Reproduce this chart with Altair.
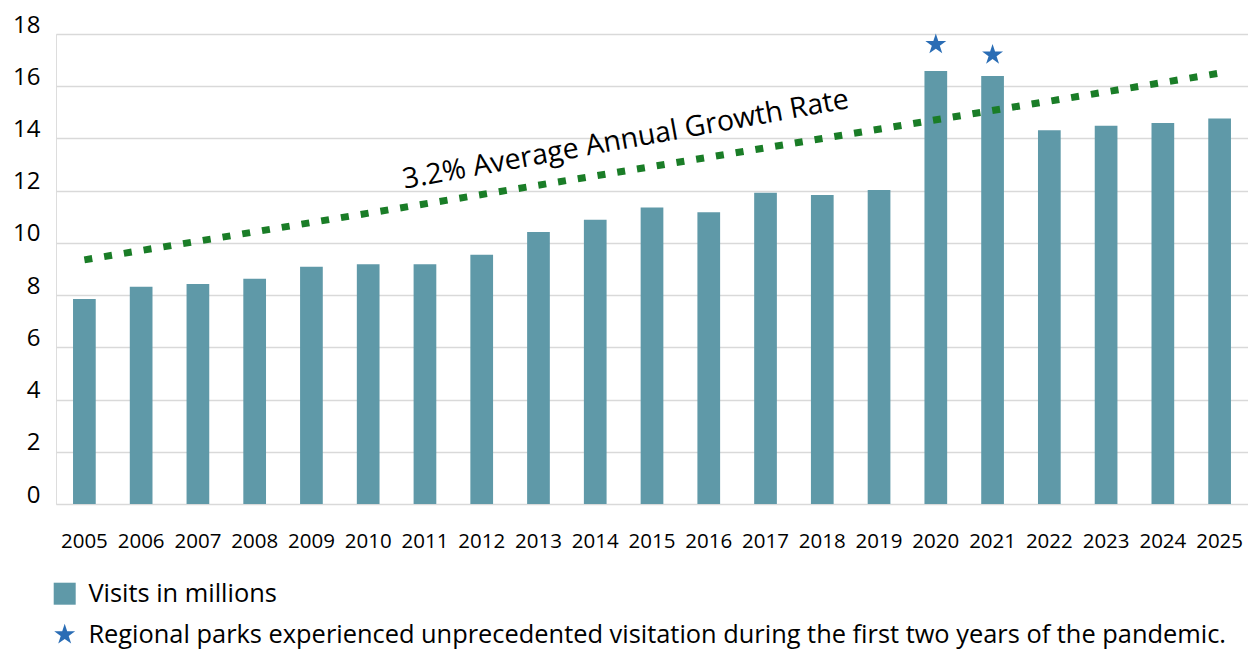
import altair as alt
import pandas as pd

years = ["2005", "2006", "2007", "2008", "2009", "2010", "2011", "2012", "2013", "2014",
         "2015", "2016", "2017", "2018", "2019", "2020", "2021", "2022", "2023", "2024", "2025"]
visits = [7.85, 8.32, 8.43, 8.63, 9.09, 9.18, 9.18, 9.55, 10.42, 10.89,
          11.36, 11.17, 11.92, 11.83, 12.03, 16.58, 16.39, 14.31, 14.49, 14.59, 14.76]

star_years = ["2020", "2021"]
star_values = [17.6, 17.2]

trend_years = ["2005", "2025"]
trend_values = [9.35, 16.5]

label_year = ["2014"]
label_value = [13.75]
label_text = ["3.2% Average Annual Growth Rate"]

series_bar = "Visits in millions"
series_star = "Regional parks experienced unprecedented visitation during the first two years of the pandemic."
y_ticks = [0, 2, 4, 6, 8, 10, 12, 14, 16, 18]

FONT = "Open Sans"
STAR = "M0,-1L0.2245,-0.309L0.951,-0.309L0.363,0.118L0.588,0.809L0,0.382L-0.588,0.809L-0.363,0.118L-0.951,-0.309L-0.2245,-0.309Z"
SQUARE = "M-1,-1L1,-1L1,1L-1,1Z"

bars_df = pd.DataFrame({"year": years, "visits": visits, "series": series_bar})
stars_df = pd.DataFrame({"year": star_years, "visits": star_values, "series": series_star})
trend_df = pd.DataFrame({"year": trend_years, "visits": trend_values})
label_df = pd.DataFrame({"year": label_year, "visits": label_value, "text": label_text})

domain = [series_bar, series_star]
color_scale = alt.Scale(domain=domain, range=["#5f99a8", "#2a6db5"])
shape_scale = alt.Scale(domain=domain, range=[SQUARE, STAR])

x_enc = alt.X("year:O", title=None,
              scale=alt.Scale(paddingInner=0.6, paddingOuter=0.3),
              axis=alt.Axis(labelAngle=0, labelFontSize=20.5, labelFont=FONT, labelColor="#000000",
                            ticks=False, domain=False, labelPadding=27, grid=False))
y_scale = alt.Scale(domain=[0, 18], nice=False)
y_axis = alt.Axis(values=y_ticks, labelFontSize=24, labelFont=FONT, labelColor="#000000",
                  ticks=False, domain=False, labelPadding=16, grid=True,
                  gridColor="#d9d9d9", gridWidth=1.5, labelOffset=-9)

legend = alt.Legend(title=None, orient="none", legendX=-4, legendY=547, direction="vertical",
                    labelFontSize=25.4, labelFont=FONT, labelColor="#000000",
                    symbolSize=484, symbolStrokeWidth=0, rowPadding=14, labelOffset=11,
                    padding=0, labelLimit=1400)

bars = alt.Chart(bars_df).mark_bar(color="#5f99a8").encode(
    x=x_enc,
    y=alt.Y("visits:Q", title=None, scale=y_scale, axis=y_axis),
    color=alt.Color("series:N", scale=color_scale, legend=legend),
)

trend = alt.Chart(trend_df).mark_line(color="#1a7d27", strokeWidth=7, strokeDash=[8, 12]).encode(
    x="year:O",
    y=alt.Y("visits:Q", scale=y_scale),
)

stars = alt.Chart(stars_df).mark_point(filled=True, size=484, opacity=1, strokeWidth=0).encode(
    x="year:O",
    y=alt.Y("visits:Q", scale=y_scale),
    color=alt.Color("series:N", scale=color_scale, legend=legend),
    shape=alt.Shape("series:N", scale=shape_scale, legend=legend),
)

label = alt.Chart(label_df).mark_text(font=FONT, fontSize=28.5, angle=349.7, align="center",
                                      baseline="middle", dx=31, color="#000000").encode(
    x="year:O",
    y=alt.Y("visits:Q", scale=y_scale),
    text="text:N",
)

chart = alt.layer(bars, trend, label, stars).properties(
    width=1192, height=470,
    padding={"left": 48, "top": 26, "right": 0, "bottom": 146},
    autosize=alt.AutoSizeParams(type="none"),
).configure_view(stroke=None).configure(background="#ffffff")

chart.save("out.html", embed_options={"renderer": "svg", "actions": False})
